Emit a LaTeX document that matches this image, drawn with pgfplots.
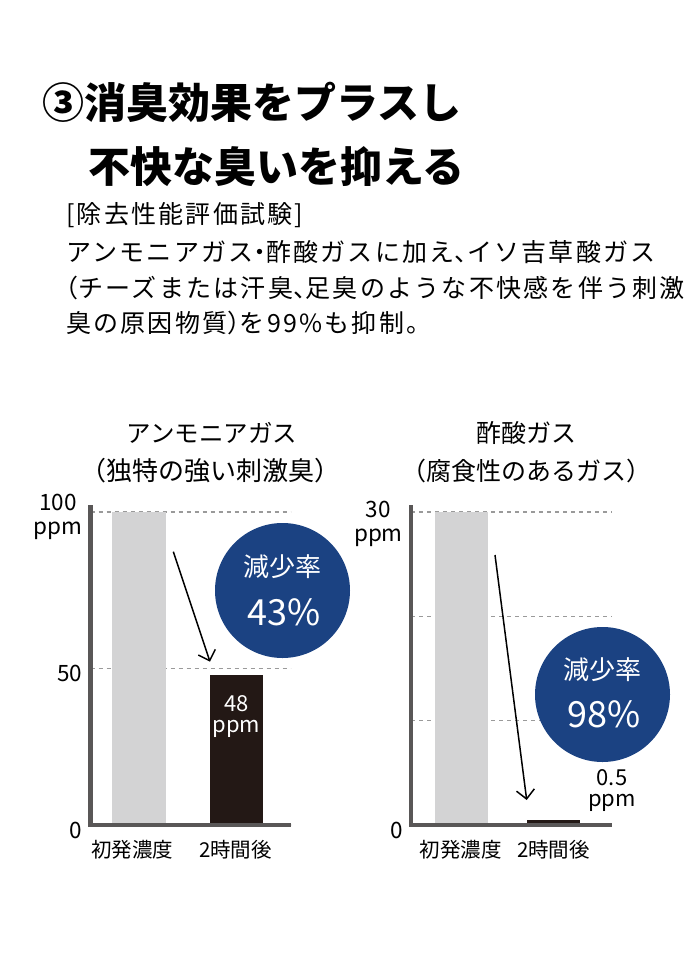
\documentclass[border=0pt]{standalone}
\usepackage{fontspec}
\setmainfont{Noto Sans CJK JP}
\newfontfamily\bodyfont[LetterSpace=9]{Noto Sans CJK JP}
\newfontfamily\halffont[LetterSpace=9,RawFeature=+halt]{Noto Sans CJK JP}
\newcommand{\h}[1]{{\halffont #1}}
\usepackage{pgfplots}
\pgfplotsset{compat=1.18}
\usetikzlibrary{arrows.meta}
\definecolor{navy}{HTML}{1B4282}
\definecolor{barGray}{HTML}{D3D3D4}
\definecolor{barBlack}{HTML}{231815}
\definecolor{axisGray}{HTML}{595757}
\definecolor{gridGray}{HTML}{9A9A9A}
\newcommand{\fs}[1]{\fontsize{#1}{#1}\selectfont}
\begin{document}
\begin{tikzpicture}
\useasboundingbox (0pt,0pt) rectangle (700pt,-955pt);
% header
\node[anchor=west, inner sep=0pt, font=\fs{42}\bfseries] at (42pt,-102pt) {③消臭効果をプラスし};
\node[anchor=west, inner sep=0pt, font=\fs{42}\bfseries] at (88pt,-167pt) {不快な臭いを抑える};
\node[anchor=west, inner sep=0pt, font=\bodyfont\fs{25}] at (66pt,-215pt) {[除去性能評価試験]};
\node[anchor=west, inner sep=0pt, font=\bodyfont\fs{25}] at (66pt,-252pt) {アンモニアガス\h{・}酢酸ガスに加え\h{、}イソ吉草酸ガス};
\node[anchor=west, inner sep=0pt, font=\bodyfont\fs{25}] at (66pt,-288pt) {\h{（}チーズまたは汗臭\h{、}足臭のような不快感を伴う刺激};
\node[anchor=west, inner sep=0pt, font=\bodyfont\fs{25}] at (66pt,-323pt) {臭の原因物質\h{）}を99\%も抑制。};
% chart titles
\node[inner sep=0pt, font=\fs{24.5}] at (212pt,-433pt) {アンモニアガス};
\node[inner sep=0pt, font=\fs{26}] at (210pt,-471pt) {（独特の強い刺激臭）};
\node[inner sep=0pt, font=\fs{25}] at (526pt,-433pt) {酢酸ガス};
\node[inner sep=0pt, font=\fs{25}] at (526pt,-471pt) {（腐食性のあるガス）};

\pgfplotsset{
  mychart/.style={
    anchor=south west, scale only axis, clip=false,
    axis line style={draw=none}, tick style={draw=none}, major tick length=0pt,
    ymajorgrids, grid style={dash pattern=on 4pt off 4pt, color=gridGray, line width=1.3pt},
    yticklabel style={font=\fs{22.5}, align=center, anchor=east, inner xsep=0pt, xshift=-8pt, yshift=-5pt},
    xticklabel style={font=\fs{20.5}, anchor=north, inner ysep=0pt, yshift=-15pt},
  }
}
% left chart
\begin{axis}[mychart, at={(90.5pt,-825pt)}, width=200pt, height=320pt,
  xmin=0, xmax=200, ymin=0, ymax=102.2,
  xtick={41.5,145}, xticklabels={初発濃度,2時間後},
  ytick={0,50,100}, yticklabels={0,50,{100\\[1pt]ppm}}]
\addplot[ybar, bar width=54, bar shift=0pt, fill=barGray, draw=none] coordinates {(48.5,100)};
\addplot[ybar, bar width=53, bar shift=0pt, fill=barBlack, draw=none] coordinates {(146,48)};
\node[text=white, align=center, font=\fs{22}, inner sep=0pt] at (axis cs:146,34.7) {48\\[-1pt]ppm};
\draw[line width=4.6pt, axisGray, line join=miter] (axis cs:0,102.2) -- (axis cs:0,0) -- (axis cs:200,0);
\end{axis}
% right chart
\begin{axis}[mychart, at={(411pt,-825pt)}, width=201pt, height=320pt,
  xmin=0, xmax=201, ymin=0, ymax=30.67,
  xtick={49.5,142.5}, xticklabels={初発濃度,2時間後},
  ytick={0,10,20}, yticklabels={0,,},
  extra y ticks={30}, extra y tick labels={{30\\[2pt]ppm}},
  extra y tick style={ymajorgrids, yticklabel style={yshift=-7pt}}]
\addplot[ybar, bar width=53, bar shift=0pt, fill=barGray, draw=none] coordinates {(50.5,30)};
\addplot[ybar, bar width=53, bar shift=0pt, fill=barBlack, draw=none] coordinates {(142.5,0.5)};
\draw[line width=4.6pt, axisGray, line join=miter] (axis cs:0,30.67) -- (axis cs:0,0) -- (axis cs:201,0);
\end{axis}
% circles and annotations
\fill[navy] (282.5pt,-590.5pt) circle (67.5pt);
\node[text=white, inner sep=0pt, font=\fs{26}] at (282.5pt,-567pt) {減少率};
\node[text=white, inner sep=0pt, font=\fs{36}] at (284pt,-612pt) {43\%};
\fill[navy] (602.5pt,-694.5pt) circle (67.5pt);
\node[text=white, inner sep=0pt, font=\fs{26}] at (602.5pt,-670pt) {減少率};
\node[text=white, inner sep=0pt, font=\fs{36}] at (604pt,-714pt) {98\%};
\node[align=center, inner sep=0pt, font=\fs{22}] at (612pt,-791pt) {0.5\\[-1pt]ppm};
\draw[line width=1.5pt, -{Straight Barb[length=9pt,width=18pt,line width=1.5pt]}] (173.3pt,-551.7pt) -- (210pt,-661.7pt);
\draw[line width=1.5pt, -{Straight Barb[length=9pt,width=18pt,line width=1.5pt]}] (495pt,-555pt) -- (526.7pt,-800pt);
\end{tikzpicture}
\end{document}
